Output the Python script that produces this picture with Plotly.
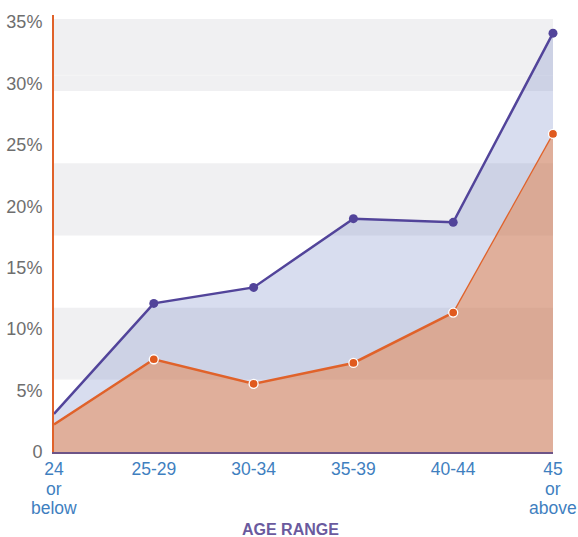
import plotly.graph_objects as go

# ---- data ----
categories = ["24 or below", "25-29", "30-34", "35-39", "40-44", "45 or above"]
tick_line1 = ["24", "25-29", "30-34", "35-39", "40-44", "45"]
tick_line2 = ["or", "", "", "", "", "or"]
tick_line3 = ["below", "", "", "", "", "above"]
purple_vals = [3.1, 12.1, 13.4, 19.0, 18.7, 34.1]
orange_vals = [2.25, 7.55, 5.55, 7.25, 11.35, 25.9]
y_tickvals = [0, 5, 10, 15, 20, 25, 30, 35]
y_ticktext = ["0", "5%", "10%", "15%", "20%", "25%", "30%", "35%"]
x_title = "AGE RANGE"

# ---- styles ----
PURPLE = "#52449a"
ORANGE = "#e0622a"
PURPLE_FILL = "rgba(100,120,190,0.25)"
ORANGE_FILL = "rgba(232,125,62,0.48)"
BAND = "#f0f0f2"
FONT = "Liberation Sans, Arial, sans-serif"
XCOL = "#3f7fbf"

idx = list(range(len(categories)))

fig = go.Figure()

# purple area + line
fig.add_trace(go.Scatter(
    x=idx, y=purple_vals, mode="lines", fill="tozeroy",
    fillcolor=PURPLE_FILL, line=dict(color=PURPLE, width=2.5),
    hoverinfo="skip", showlegend=False))

# orange area
fig.add_trace(go.Scatter(
    x=idx, y=orange_vals, mode="lines", fill="tozeroy",
    fillcolor=ORANGE_FILL, line=dict(color="rgba(0,0,0,0)", width=0),
    hoverinfo="skip", showlegend=False))

# orange line (thick part)
fig.add_trace(go.Scatter(
    x=idx[:5], y=orange_vals[:5], mode="lines",
    line=dict(color=ORANGE, width=2.5), hoverinfo="skip", showlegend=False))
# orange line (thin last segment)
fig.add_trace(go.Scatter(
    x=idx[4:], y=orange_vals[4:], mode="lines",
    line=dict(color=ORANGE, width=1.3), hoverinfo="skip", showlegend=False))

# purple markers
fig.add_trace(go.Scatter(
    x=idx[1:], y=purple_vals[1:], mode="markers",
    marker=dict(color=PURPLE, size=9, opacity=1, line=dict(width=0)),
    cliponaxis=False, hoverinfo="skip", showlegend=False))
# orange markers
fig.add_trace(go.Scatter(
    x=idx[1:], y=orange_vals[1:], mode="markers",
    marker=dict(color="#e05a1e", size=9, opacity=1, line=dict(color="white", width=1.3)),
    cliponaxis=False, hoverinfo="skip", showlegend=False))

# background bands
top = 35.26
step = top / 6
shapes = []
for k in (0, 2, 4):
    shapes.append(dict(type="rect", xref="paper", yref="y", x0=0, x1=1,
                       y0=top - (k + 1) * step, y1=top - k * step,
                       fillcolor=BAND, line=dict(width=0), layer="below"))
for yv in (30.67, 23.98, 11.84, 5.92):
    shapes.append(dict(type="line", xref="paper", yref="y", x0=0, x1=1,
                       y0=yv, y1=yv, line=dict(color="rgba(255,255,255,0.35)", width=1),
                       layer="below"))

annotations = []
for i in idx:
    if tick_line2[i]:
        annotations.append(dict(x=i, y=0, xref="x", yref="paper", text=tick_line2[i],
                                showarrow=False, yanchor="middle", yshift=-37,
                                font=dict(family=FONT, size=17.5, color=XCOL)))
    if tick_line3[i]:
        annotations.append(dict(x=i, y=0, xref="x", yref="paper", text=tick_line3[i],
                                showarrow=False, yanchor="middle", yshift=-56,
                                font=dict(family=FONT, size=17.5, color=XCOL)))
annotations.append(dict(x=(290 - 54) / 499, y=0, xref="paper", yref="paper",
                        text="<b>" + x_title + "</b>", showarrow=False,
                        yanchor="middle", yshift=-77,
                        font=dict(family=FONT, size=16, color="#6a5a9e")))

fig.update_layout(
    width=578, height=537,
    margin=dict(l=54, r=25, t=15, b=85),
    paper_bgcolor="white", plot_bgcolor="white",
    shapes=shapes, annotations=annotations,
    xaxis=dict(range=[0, 5], tickmode="array", tickvals=idx, ticktext=tick_line1,
               showgrid=False, zeroline=False, showline=True, linecolor="#6d5487",
               linewidth=2, ticks="", tickfont=dict(family=FONT, size=17.5, color=XCOL),
               ticklabelstandoff=0, automargin=False),
    yaxis=dict(range=[0, 35.58], tickmode="array", tickvals=y_tickvals, ticktext=y_ticktext,
               showgrid=False, zeroline=False, showline=True, linecolor=ORANGE,
               linewidth=2, ticks="", tickfont=dict(family=FONT, size=18, color="#6e6e6e"),
               ticklabelstandoff=6, automargin=False),
)

fig.write_html("out.html")
